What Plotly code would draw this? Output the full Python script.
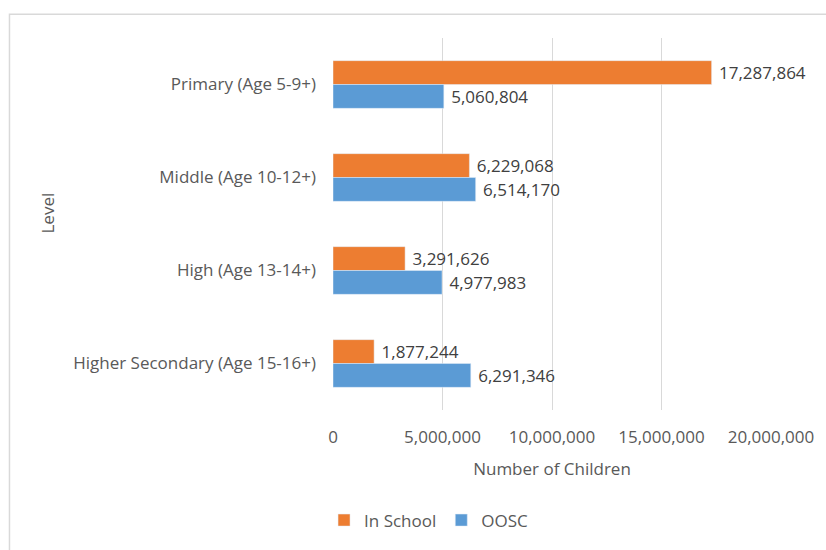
import plotly.graph_objects as go

# Enrolment by school level
levels = ["Primary (Age 5-9+)", "Middle (Age 10-12+)", "High (Age 13-14+)",
          "Higher Secondary (Age 15-16+)"]
in_school = [17287864, 6229068, 3291626, 1877244]
oosc = [5060804, 6514170, 4977983, 6291346]

x_ticks = [0, 5000000, 10000000, 15000000, 20000000]
x_tick_text = ["0", "5,000,000", "10,000,000", "15,000,000", "20,000,000"]

FONT = "Open Sans"
FS = 17
TEXT_GREY = "#595959"
LABEL_GREY = "#404040"
GRID = "#D9D9D9"

L, R, T, B = 333, 53, 38, 135
PW, PH = 826 - L - R, 550 - T - B

fig = go.Figure()
fig.add_trace(go.Bar(
    y=levels, x=in_school, name="In School", orientation="h",
    marker=dict(color="#ED7D31"),
    texttemplate="\u00a0%{x:,.0f}", textposition="outside",
    textfont=dict(family=FONT, size=FS, color=LABEL_GREY),
    cliponaxis=False,
))
fig.add_trace(go.Bar(
    y=levels, x=oosc, name="OOSC", orientation="h",
    marker=dict(color="#5B9BD5"),
    texttemplate="\u00a0%{x:,.0f}", textposition="outside",
    textfont=dict(family=FONT, size=FS, color=LABEL_GREY),
    cliponaxis=False,
))

# Light frame around the chart area
fig.add_shape(type="rect", xref="paper", yref="paper",
              x0=(8 - L) / PW, x1=1.2, y0=-0.5, y1=1 + (T - 14) / PH,
              line=dict(color=GRID, width=1.5), fillcolor="rgba(0,0,0,0)",
              layer="below")

fig.add_annotation(text="Level", xref="paper", yref="paper",
                   x=(33 - L) / PW, y=(550 - B - 215) / PH,
                   textangle=-90, showarrow=False,
                   font=dict(family=FONT, size=FS, color=TEXT_GREY))

fig.update_layout(
    width=826, height=550,
    margin=dict(l=L, r=R, t=T, b=B),
    paper_bgcolor="white", plot_bgcolor="white",
    barmode="group", bargap=0.487, bargroupgap=0,
    font=dict(family=FONT, size=FS, color=TEXT_GREY),
    legend=dict(orientation="h", x=(324 - L) / PW, xanchor="left",
                y=(550 - B - 527) / PH, yanchor="middle",
                font=dict(family=FONT, size=FS, color=TEXT_GREY),
                itemwidth=30, traceorder="normal"),
    showlegend=True,
)
fig.update_xaxes(
    range=[0, 20000000], tickvals=x_ticks, ticktext=x_tick_text,
    showgrid=True, gridcolor=GRID, gridwidth=1,
    zeroline=False, showline=False, ticks="",
    ticklabelstandoff=15,
    title=dict(text="Number of Children", standoff=16,
               font=dict(family=FONT, size=FS, color=TEXT_GREY)),
    tickfont=dict(family=FONT, size=FS, color=TEXT_GREY),
)
fig.update_yaxes(
    autorange="reversed", showgrid=False, zeroline=False, showline=False,
    ticks="", ticklabelstandoff=16,
    tickfont=dict(family=FONT, size=FS, color=TEXT_GREY),
)

fig.write_html("out.html")
